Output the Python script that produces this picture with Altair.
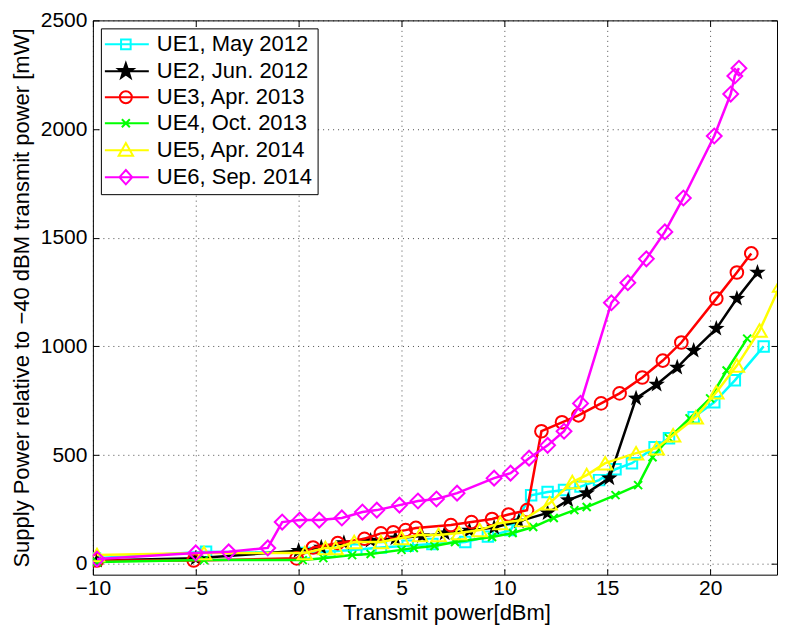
import altair as alt
import pandas as pd

series_names = ["UE1, May 2012", "UE2, Jun. 2012", "UE3, Apr. 2013",
                "UE4, Oct. 2013", "UE5, Apr. 2014", "UE6, Sep. 2014"]
colors = ["#00FFFF", "#000000", "#FF0000", "#00FF00", "#FFFF00", "#FF00FF"]

x_ticks = [-10, -5, 0, 5, 10, 15, 20]
y_ticks = [0, 500, 1000, 1500, 2000, 2500]

ue1_x = [-9.9, -4.5, 0.3, 1.5, 2.8, 4.0, 5.3, 6.5, 8.1, 9.2, 10.3, 11.3, 12.1, 12.9, 13.7, 14.6, 15.4, 16.2, 17.3, 18.0, 19.2, 20.2, 21.2, 22.6]
ue1_y = [25, 55, 50, 57, 65, 75, 83, 91, 100, 125, 155, 315, 330, 340, 355, 385, 435, 463, 536, 578, 674, 743, 844, 1000]

ue2_x = [-9.8, -5.0, 0.0, 1.1, 2.2, 3.5, 4.7, 6.0, 7.1, 8.3, 9.5, 10.7, 12.1, 13.1, 14.0, 15.1, 16.4, 17.4, 18.4, 19.2, 20.3, 21.3, 22.3]
ue2_y = [15, 25, 60, 75, 96, 107, 117, 128, 140, 153, 167, 195, 234, 293, 325, 394, 761, 825, 903, 981, 1082, 1220, 1340]

ue3_x = [-9.8, -5.1, -0.1, 0.7, 1.9, 3.2, 4.0, 4.6, 5.2, 5.7, 7.4, 8.4, 9.4, 10.2, 11.1, 11.8, 12.8, 13.6, 14.7, 15.6, 16.7, 17.7, 18.6, 20.3, 21.3, 22.0]
ue3_y = [15, 15, 25, 75, 95, 115, 140, 145, 155, 165, 178, 192, 206, 227, 247, 610, 651, 683, 738, 784, 857, 935, 1018, 1220, 1340, 1428]

ue4_x = [-9.8, -4.6, 0.2, 1.2, 2.6, 3.5, 5.0, 5.6, 6.6, 7.6, 9.4, 10.4, 11.4, 12.4, 13.4, 14.0, 15.4, 16.5, 17.2, 18.0, 19.0, 20.0, 20.8, 21.8]
ue4_y = [8, 17, 17, 26, 40, 45, 64, 73, 82, 100, 123, 142, 169, 211, 247, 261, 316, 362, 490, 578, 669, 761, 889, 1036]

ue5_x = [-9.8, -4.6, 0.3, 1.3, 1.8, 2.7, 4.0, 5.0, 5.9, 6.8, 7.8, 8.8, 9.8, 10.9, 12.2, 13.3, 14.0, 14.9, 16.4, 17.4, 18.2, 19.3, 20.3, 21.3, 22.4, 23.4, 24.1]
ue5_y = [40, 50, 50, 73, 73, 100, 100, 119, 133, 133, 142, 155, 188, 201, 279, 376, 408, 463, 509, 532, 591, 674, 789, 912, 1073, 1280, 1465]

ue6_x = [-9.8, -5.0, -3.4, -1.5, -0.8, 0.05, 1.0, 2.1, 3.1, 3.8, 4.9, 5.8, 6.7, 7.7, 9.5, 10.3, 11.2, 12.1, 12.9, 13.7, 15.2, 16.0, 16.9, 17.8, 18.7, 20.2, 21.0, 21.2, 21.4]
ue6_y = [22, 50, 55, 73, 192, 201, 201, 211, 238, 247, 270, 289, 298, 325, 394, 417, 486, 545, 610, 738, 1201, 1293, 1403, 1527, 1683, 1968, 2161, 2244, 2280]

all_x = [ue1_x, ue2_x, ue3_x, ue4_x, ue5_x, ue6_x]
all_y = [ue1_y, ue2_y, ue3_y, ue4_y, ue5_y, ue6_y]

rows = []
for name, xs, ys in zip(series_names, all_x, all_y):
    for i, (a, b) in enumerate(zip(xs, ys)):
        rows.append({"series": name, "tx": a, "p": b, "order": i})
df = pd.DataFrame(rows)

STAR_PTS = [(0, -1), (0.235, -0.324), (0.951, -0.309), (0.38, 0.124), (0.588, 0.809),
            (0, 0.4), (-0.588, 0.809), (-0.38, 0.124), (-0.951, -0.309), (-0.235, -0.324)]


def star_at(cx, r):
    return "M" + "L".join(f"{cx + px * r:.3f},{py * r:.3f}" for px, py in STAR_PTS) + "Z"


XMARK = "M-1,-1L1,1M-1,1L1,-1"
marker_shapes = ["square", star_at(0, 1.0), "circle", XMARK, "triangle-up", "diamond"]
marker_sizes = [110, 300, 160, 64, 210, 220]
marker_filled = [False, True, False, False, False, False]

# legend symbols: a line segment with the marker on it (1 unit = 8px)
c = 1.125
LINE = "M-1.5,0H4"
legend_paths = [
    LINE + f"M{c-0.6},-0.6H{c+0.6}V0.6H{c-0.6}Z",
    LINE + star_at(c, 1.0) + star_at(c, 0.7) + star_at(c, 0.4),
    LINE + f"M{c-0.75},0A0.75,0.75 0 1,0 {c+0.75},0A0.75,0.75 0 1,0 {c-0.75},0Z",
    LINE + f"M{c-0.5},-0.5L{c+0.5},0.5M{c-0.5},0.5L{c+0.5},-0.5",
    LINE + f"M{c},-0.9L{c+0.9},0.7L{c-0.9},0.7Z",
    LINE + f"M{c},-0.9L{c+0.8},0L{c},0.9L{c-0.8},0Z",
]
legend_fills = ["transparent", "#000000", "transparent", "transparent", "transparent", "transparent"]

xscale = alt.Scale(domain=[-10, 23.25], nice=False, zero=False)
yscale = alt.Scale(domain=[-50, 2500], nice=False, zero=False)

FONT = "Liberation Sans"

bottom_axis = alt.Axis(orient="bottom", values=x_ticks, format="d", offset=-6, tickSize=6,
                       labelPadding=3, titlePadding=4, grid=True, titleX=354, labelFlush=False)
left_axis = alt.Axis(orient="left", values=y_ticks, format="d", offset=-6, tickSize=6,
                     labelPadding=6, titlePadding=7, grid=True, labelFlush=False)
top_axis = alt.Axis(orient="top", values=x_ticks, labels=False, offset=-6, tickSize=6,
                    grid=False, title=None)
right_axis = alt.Axis(orient="right", values=y_ticks, labels=False, offset=-6, tickSize=6,
                      grid=False, title=None)

base = alt.Chart(df)

layers = []
for k, (name, col, shp, sz, fl) in enumerate(zip(series_names, colors, marker_shapes, marker_sizes, marker_filled)):
    if k == 0:
        xe = alt.X("tx:Q", scale=xscale, axis=bottom_axis, title="Transmit power[dBm]")
        ye = alt.Y("p:Q", scale=yscale, axis=left_axis,
                   title="Supply Power relative to \u221240 dBM transmit power [mW]")
    else:
        xe = alt.X("tx:Q", scale=xscale, axis=None)
        ye = alt.Y("p:Q", scale=yscale, axis=None)
    sub = base.transform_filter(alt.datum.series == name)
    layers.append(
        sub.mark_line(color=col, strokeWidth=2.5, clip=True).encode(
            x=xe, y=ye, order=alt.Order("order:Q"))
    )
    layers.append(
        sub.mark_point(shape=shp, size=sz, filled=fl, color=col, strokeWidth=2,
                       opacity=1, clip=True).encode(
            x=alt.X("tx:Q", scale=xscale, axis=None),
            y=alt.Y("p:Q", scale=yscale, axis=None),
        )
    )

leg = alt.Legend(orient="top-left", title=None, offset=8, padding=5, strokeColor="black",
                 fillColor="white", labelFont=FONT, labelFontSize=22, labelColor="black",
                 labelOffset=29, labelLimit=400, rowPadding=4, symbolSize=256,
                 symbolStrokeWidth=2, symbolOpacity=1)

legend_layer = base.transform_filter("false").mark_point(filled=False, opacity=1, strokeWidth=2).encode(
    x=alt.X("tx:Q", scale=xscale, axis=top_axis),
    y=alt.Y("p:Q", scale=yscale, axis=right_axis),
    stroke=alt.Stroke("series:N", scale=alt.Scale(domain=series_names, range=colors), legend=leg),
    shape=alt.Shape("series:N", scale=alt.Scale(domain=series_names, range=legend_paths), legend=leg),
    fill=alt.Fill("series:N", scale=alt.Scale(domain=series_names, range=legend_fills), legend=leg),
)

chart = (
    alt.layer(*layers, legend_layer)
    .resolve_axis(x="independent", y="independent")
    .properties(width=685, height=555, autosize=alt.AutoSizeParams(type="none"),
                padding={"left": 85, "top": 12, "right": 4, "bottom": 50})
    .configure_view(stroke="black", strokeWidth=1)
    .configure_axis(labelFont=FONT, labelFontSize=21, labelColor="black",
                    titleFont=FONT, titleFontSize=22, titleFontWeight="normal", titleColor="black",
                    tickColor="black", tickWidth=1, domain=False,
                    gridColor="black", gridDash=[1, 4], gridOpacity=0.7, gridWidth=1)
)

chart.save("out.html", embed_options={"renderer": "svg", "actions": False})
